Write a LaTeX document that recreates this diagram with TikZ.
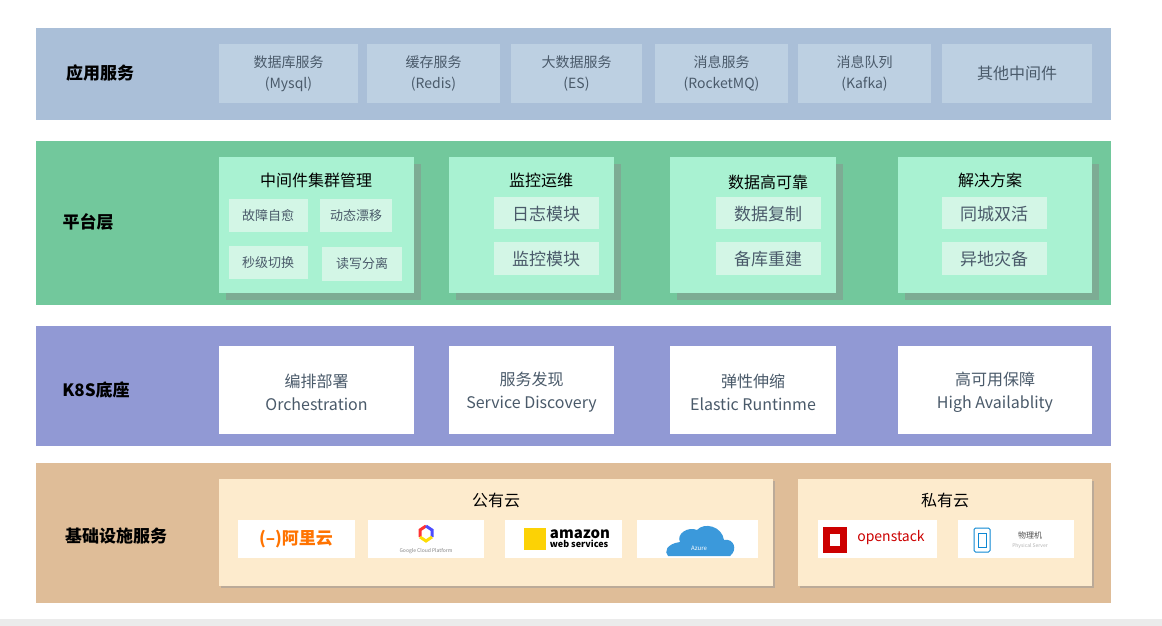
\documentclass[tikz,border=0pt]{standalone}
\usepackage{fontspec}
\setmainfont{Noto Sans CJK SC}
\usetikzlibrary{shadows}
\definecolor{bandA}{HTML}{AABFD8}
\definecolor{boxA}{HTML}{BDD0E2}
\definecolor{bandB}{HTML}{72C89C}
\definecolor{boxB}{HTML}{A9F2D2}
\definecolor{subB}{HTML}{D3F6E6}
\definecolor{bandC}{HTML}{9199D4}
\definecolor{bandD}{HTML}{DFBD98}
\definecolor{boxD}{HTML}{FDEBCD}
\definecolor{txt}{HTML}{4A5A6A}
\begin{document}
\begin{tikzpicture}[x=1pt,y=-1pt,
  title/.style={font=\bfseries\fontsize{17}{19}\selectfont},
  cell/.style={fill=boxA,text=txt,align=center,font=\fontsize{14}{21}\selectfont},
  group/.style={fill=boxB,drop shadow={shadow xshift=7pt,shadow yshift=-7pt,fill=black!45,opacity=.45}},
  gtitle/.style={font=\fontsize{16}{18}\selectfont},
  sub/.style={fill=subB,text=txt,font=\fontsize{13}{15}\selectfont},
  subbig/.style={fill=subB,text=txt,font=\fontsize{17}{19}\selectfont},
  k8s/.style={fill=white,text=txt,align=center,font=\fontsize{16}{23}\selectfont},
  logo/.style={fill=white}]
\useasboundingbox (0,0) rectangle (1162,626);
\fill[black!8] (0,619) rectangle (1162,626);

% 应用服务
\fill[bandA] (36,28) rectangle (1111,120);
\node[title] (tA) at (100,73) {应用服务};
\fill[cell] (219,44) rectangle (358,103); \node[cell] (a1) at (288.5,73.5) {数据库服务\\(Mysql)};
\fill[cell] (367,44) rectangle (500,103); \node[cell] (a2) at (433.5,73.5) {缓存服务\\(Redis)};
\fill[cell] (511,44) rectangle (642,103); \node[cell] (a3) at (576.5,73.5) {大数据服务\\(ES)};
\fill[cell] (655,44) rectangle (788,103); \node[cell] (a4) at (721.5,73.5) {消息服务\\(RocketMQ)};
\fill[cell] (798,44) rectangle (931,103); \node[cell] (a5) at (864.5,73.5) {消息队列\\(Kafka)};
\fill[cell] (942,44) rectangle (1092,103); \node[cell,font=\fontsize{16}{18}\selectfont] (a6) at (1017,73.5) {其他中间件};

% 平台层
\fill[bandB] (36,141) rectangle (1111,305);
\node[title] (tB) at (88,222) {平台层};
\fill[group] (219,157) rectangle (414,293);
\node[gtitle] (g1) at (316,180) {中间件集群管理};
\fill[sub] (229,199) rectangle (308,232); \node[sub] (s1) at (268,216) {故障自愈};
\fill[sub] (320,199) rectangle (392,232); \node[sub] (s2) at (356,216) {动态漂移};
\fill[sub] (229,246) rectangle (308,279); \node[sub] (s3) at (268,263) {秒级切换};
\fill[sub] (322,247) rectangle (402,281); \node[sub] (s4) at (362,264) {读写分离};
\fill[group] (449,157) rectangle (614,293);
\node[gtitle] (g2) at (541,180) {监控运维};
\fill[subB] (494,197) rectangle (599,229); \node[subbig] (s5) at (546,214) {日志模块};
\fill[subB] (494,242) rectangle (599,275); \node[subbig] (s6) at (546,259) {监控模块};
\fill[group] (670,157) rectangle (836,293);
\node[gtitle] (g3) at (768,182) {数据高可靠};
\fill[subB] (716,197) rectangle (821,229); \node[subbig] (s7) at (768,214) {数据复制};
\fill[subB] (716,242) rectangle (821,275); \node[subbig] (s8) at (768,259) {备库重建};
\fill[group] (898,157) rectangle (1092,293);
\node[gtitle] (g4) at (990,180) {解决方案};
\fill[subB] (942,197) rectangle (1047,229); \node[subbig] (s9) at (994,214) {同城双活};
\fill[subB] (942,242) rectangle (1047,275); \node[subbig] (s10) at (994,259) {异地灾备};

% K8S底座
\fill[bandC] (36,326) rectangle (1111,446);
\node[title] (tC) at (96,390) {K8S底座};
\fill[white] (219,346) rectangle (414,434); \node[k8s] (k1) at (316.5,392) {编排部署\\Orchestration};
\fill[white] (449,346) rectangle (614,434); \node[k8s] (k2) at (531.5,392) {服务发现\\Service Discovery};
\fill[white] (670,346) rectangle (836,434); \node[k8s] (k3) at (753,392) {弹性伸缩\\Elastic Runtinme};
\fill[white] (898,346) rectangle (1092,434); \node[k8s] (k4) at (995,392) {高可用保障\\High Availablity};

% 基础设施服务
\fill[bandD] (36,463) rectangle (1111,603);
\node[title] (tD) at (116,536) {基础设施服务};
\fill[boxD,drop shadow={shadow xshift=2pt,shadow yshift=-2pt,fill=black!40,opacity=.5}] (219,479) rectangle (773,586);
\fill[boxD,drop shadow={shadow xshift=2pt,shadow yshift=-2pt,fill=black!40,opacity=.5}] (798,479) rectangle (1092,586);
\node[gtitle] (pub) at (496,500) {公有云};
\node[gtitle] (pri) at (945,500) {私有云};
\fill[logo] (238,520) rectangle (355,558);
\node[text=orange!90!red,font=\bfseries\fontsize{17}{18}\selectfont] (ali) at (296,539) {(–)阿里云};
\fill[logo] (368,520) rectangle (484,558);
\draw[line width=3pt,red!80] (420,537) -- (420,530) -- (426,526);
\draw[line width=3pt,blue!70] (426,526) -- (432,530) -- (432,537);
\draw[line width=3pt,yellow!80!orange] (432,537) -- (426,541) -- (420,537);
\node[text=gray,font=\fontsize{5}{6}\selectfont] (gcp) at (426,551) {Google Cloud Platform};
\fill[logo] (505,520) rectangle (622,558);
\fill[yellow!70!orange] (524,528) rectangle (546,550);
\node[font=\bfseries\fontsize{15}{11}\selectfont,align=left,inner sep=0pt] (aws) at (580,539) {amazon\\[-2pt]{\fontsize{9}{9}\selectfont web services}};
\fill[logo] (637,520) rectangle (758,558);
\fill[cyan!70!blue!80] (668,556) -- (730,556) .. controls (738,550) and (734,538) .. (724,540) .. controls (722,526) and (704,522) .. (697,530) .. controls (688,526) and (676,534) .. (680,542) .. controls (666,544) and (664,552) .. (668,556) -- cycle;
\node[white,font=\fontsize{6}{7}\selectfont] (az) at (699,548) {Azure};
\fill[logo] (818,520) rectangle (937,558);
\fill[red!80!black] (823,527) rectangle (847,553);
\fill[white] (830,534) rectangle (840,546);
\node[text=red!80!black,font=\fontsize{14}{15}\selectfont] (os) at (891,538) {openstack};
\fill[logo] (958,520) rectangle (1074,558);
\draw[cyan!70!blue,line width=1pt,rounded corners=1.5pt] (974,528) rectangle (990,552);
\draw[cyan!70!blue,line width=1pt] (978,533) rectangle (986,547);
\node[text=black!70,font=\fontsize{8}{9}\selectfont] (pm) at (1030,535) {物理机};
\node[text=black!30,font=\fontsize{5}{6}\selectfont] (ps) at (1030,546) {Physical Server};
\end{tikzpicture}
\end{document}
